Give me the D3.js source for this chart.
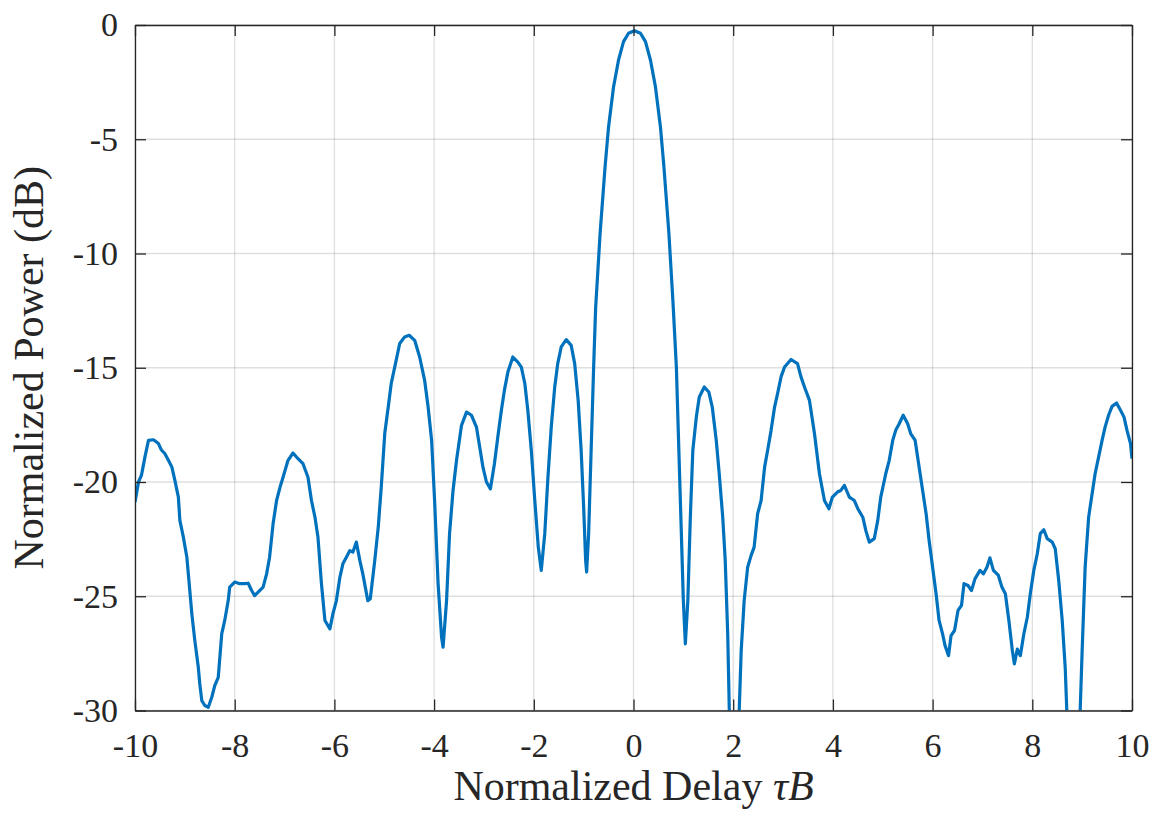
<!DOCTYPE html>
<html>
<head>
<meta charset="utf-8">
<script src="https://cdn.jsdelivr.net/npm/d3@7"></script>
<style>
  html, body { margin: 0; padding: 0; background: #fff; }
  svg text { font-family: "Liberation Serif", "DejaVu Serif", serif; fill: #262626; }
</style>
</head>
<body>
<svg id="chart" width="1154" height="816"></svg>
<script>
// normalized delay (tau*B) and normalized power (dB)
const tau = [
  -10.00, -9.93, -9.87, -9.80, -9.73, -9.63, -9.53, -9.47, -9.40, -9.33,
  -9.26, -9.20, -9.13, -9.10, -9.03, -8.96, -8.93, -8.86, -8.80, -8.73,
  -8.70, -8.66, -8.60, -8.53, -8.46, -8.40, -8.33, -8.26, -8.20, -8.13,
  -8.10, -8.00, -7.90, -7.80, -7.73, -7.66, -7.60, -7.53, -7.43, -7.36,
  -7.30, -7.23, -7.16, -7.09, -7.03, -6.93, -6.83, -6.73, -6.63, -6.53,
  -6.46, -6.39, -6.33, -6.26, -6.19, -6.09, -6.03, -5.96, -5.89, -5.83,
  -5.76, -5.69, -5.63, -5.56, -5.49, -5.43, -5.33, -5.28, -5.19, -5.12,
  -5.06, -4.99, -4.92, -4.86, -4.79, -4.69, -4.59, -4.50, -4.39, -4.29,
  -4.19, -4.12, -4.05, -3.99, -3.92, -3.85, -3.82, -3.75, -3.69, -3.62,
  -3.55, -3.45, -3.35, -3.25, -3.15, -3.09, -3.02, -2.95, -2.87, -2.79,
  -2.72, -2.65, -2.59, -2.52, -2.42, -2.32, -2.25, -2.18, -2.12, -2.05,
  -1.98, -1.91, -1.85, -1.78, -1.72, -1.65, -1.58, -1.52, -1.45, -1.35,
  -1.25, -1.18, -1.11, -1.05, -1.00, -0.96, -0.94, -0.90, -0.85, -0.80,
  -0.76, -0.67, -0.57, -0.50, -0.40, -0.30, -0.20, -0.10, 0.02, 0.14,
  0.24, 0.34, 0.44, 0.54, 0.61, 0.71, 0.79, 0.86, 0.91, 0.96,
  1.00, 1.04, 1.09, 1.14, 1.19, 1.26, 1.32, 1.42, 1.51, 1.58,
  1.66, 1.72, 1.79, 1.84, 1.89, 1.96, 2.06, 2.16, 2.22, 2.29,
  2.36, 2.42, 2.49, 2.56, 2.63, 2.69, 2.76, 2.83, 2.89, 2.96,
  3.03, 3.16, 3.29, 3.36, 3.43, 3.53, 3.63, 3.73, 3.83, 3.92,
  3.99, 4.09, 4.16, 4.23, 4.33, 4.43, 4.50, 4.60, 4.66, 4.73,
  4.83, 4.90, 4.96, 5.06, 5.13, 5.20, 5.26, 5.33, 5.41, 5.50,
  5.56, 5.65, 5.73, 5.80, 5.87, 5.93, 6.00, 6.07, 6.13, 6.20,
  6.25, 6.32, 6.37, 6.44, 6.51, 6.58, 6.63, 6.71, 6.78, 6.85,
  6.95, 7.02, 7.09, 7.15, 7.22, 7.32, 7.39, 7.46, 7.53, 7.60,
  7.64, 7.70, 7.76, 7.83, 7.90, 7.96, 8.03, 8.10, 8.16, 8.23,
  8.30, 8.40, 8.46, 8.53, 8.60, 8.66, 8.76, 8.90, 9.00, 9.06,
  9.13, 9.20, 9.26, 9.33, 9.40, 9.46, 9.53, 9.60, 9.69, 9.77,
  9.84, 9.90, 9.97, 10.00
];

const powerDb = [
  -20.88, -20.00, -19.70, -18.90, -18.18, -18.15, -18.32, -18.60, -18.76, -19.05,
  -19.35, -19.93, -20.66, -21.68, -22.41, -23.29, -24.02, -25.77, -26.94, -28.11,
  -28.84, -29.57, -29.78, -29.86, -29.42, -28.91, -28.55, -26.65, -26.06, -25.19,
  -24.60, -24.38, -24.45, -24.45, -24.43, -24.75, -24.97, -24.82, -24.60, -24.02,
  -23.29, -21.83, -20.81, -20.22, -19.79, -19.05, -18.73, -18.98, -19.20, -19.79,
  -20.81, -21.54, -22.41, -24.45, -26.06, -26.43, -25.77, -25.19, -24.17, -23.58,
  -23.29, -23.00, -23.07, -22.63, -23.43, -24.02, -25.19, -25.11, -23.43, -21.97,
  -20.22, -17.88, -16.72, -15.69, -14.97, -13.94, -13.65, -13.58, -13.80, -14.53,
  -15.55, -16.72, -18.18, -20.81, -24.45, -26.79, -27.23, -25.19, -22.26, -20.37,
  -19.05, -17.52, -16.94, -17.08, -17.60, -18.40, -19.35, -20.00, -20.30, -19.20,
  -18.00, -16.86, -15.99, -15.19, -14.53, -14.75, -14.97, -15.69, -16.86, -18.62,
  -20.81, -22.85, -23.87, -22.26, -19.93, -17.60, -15.84, -14.82, -14.09, -13.77,
  -14.02, -14.82, -16.43, -18.62, -21.10, -23.43, -23.94, -22.26, -18.62, -15.00,
  -12.40, -9.12, -6.20, -4.45, -2.70, -1.53, -0.73, -0.36, -0.25, -0.36,
  -0.73, -1.53, -2.70, -4.45, -6.20, -9.12, -12.05, -14.97, -18.62, -22.26,
  -25.19, -27.08, -25.19, -21.54, -18.62, -17.16, -16.28, -15.84, -16.06, -16.72,
  -18.18, -19.64, -21.54, -23.43, -26.65, -34.00, -34.00, -27.40, -25.19, -23.73,
  -23.21, -22.85, -21.39, -20.81, -19.35, -18.62, -17.74, -16.72, -16.13, -15.40,
  -14.97, -14.64, -14.82, -15.40, -15.84, -16.43, -17.88, -19.64, -20.81, -21.17,
  -20.66, -20.44, -20.37, -20.15, -20.66, -20.81, -21.17, -21.54, -22.12, -22.63,
  -22.48, -21.68, -20.66, -19.64, -19.05, -18.18, -17.74, -17.45, -17.08, -17.45,
  -17.88, -18.18, -19.35, -20.37, -21.39, -22.56, -23.73, -24.89, -26.06, -26.65,
  -27.16, -27.60, -26.72, -26.50, -25.62, -25.40, -24.45, -24.53, -24.75, -24.24,
  -23.87, -24.02, -23.73, -23.32, -23.87, -24.09, -24.60, -24.89, -26.06, -27.38,
  -27.96, -27.31, -27.60, -26.65, -25.92, -24.89, -23.87, -23.14, -22.26, -22.09,
  -22.48, -22.63, -22.92, -24.31, -26.06, -28.11, -34.00, -34.00, -27.38, -23.73,
  -21.54, -20.51, -19.64, -18.91, -18.18, -17.60, -17.08, -16.69, -16.54, -16.86,
  -17.16, -17.74, -18.32, -18.98
];

const xTicks = [-10, -8, -6, -4, -2, 0, 2, 4, 6, 8, 10];
const yTicks = [-30, -25, -20, -15, -10, -5, 0];

const svg = d3.select("#chart");
const margin = { top: 25, right: 22, bottom: 105.5, left: 135 };
const width = +svg.attr("width");
const height = +svg.attr("height");
const innerWidth = width - margin.left - margin.right;
const innerHeight = height - margin.top - margin.bottom;
const axisColor = "#262626";

const g = svg.append("g")
  .attr("transform", `translate(${margin.left},${margin.top})`);

const x = d3.scaleLinear().domain([-10, 10]).range([0, innerWidth]);
const y = d3.scaleLinear().domain([-30, 0]).range([innerHeight, 0]);

// --- Grid ---
g.append("g").selectAll("line")
  .data(xTicks)
  .enter()
  .append("line")
  .attr("x1", d => x(d)).attr("x2", d => x(d))
  .attr("y1", 0).attr("y2", innerHeight)
  .attr("stroke", axisColor).attr("stroke-opacity", 0.15).attr("stroke-width", 1.3);

g.append("g").selectAll("line")
  .data(yTicks)
  .enter()
  .append("line")
  .attr("x1", 0).attr("x2", innerWidth)
  .attr("y1", d => y(d)).attr("y2", d => y(d))
  .attr("stroke", axisColor).attr("stroke-opacity", 0.15).attr("stroke-width", 1.3);

// --- Curve ---
svg.append("defs").append("clipPath")
  .attr("id", "plot-clip")
  .append("rect")
  .attr("width", innerWidth)
  .attr("height", innerHeight);

const points = tau.map((t, i) => ({ t: t, p: powerDb[i] }));

const line = d3.line()
  .x(d => x(d.t))
  .y(d => y(d.p));

g.append("path")
  .datum(points)
  .attr("clip-path", "url(#plot-clip)")
  .attr("fill", "none")
  .attr("stroke", "#0072BD")
  .attr("stroke-width", 3.2)
  .attr("stroke-linejoin", "round")
  .attr("d", line);

// --- Axes (box with inward ticks) ---
const tickLen = 11;
function styleAxis(sel) {
  sel.select(".domain").attr("stroke", axisColor).attr("stroke-width", 1.3);
  sel.selectAll(".tick line").attr("stroke", axisColor).attr("stroke-width", 1.3);
  sel.selectAll(".tick text")
    .style("font-size", "34px")
    .attr("fill", axisColor);
}

g.append("g")
  .attr("transform", `translate(0,${innerHeight})`)
  .call(d3.axisBottom(x).tickValues(xTicks).tickFormat(d => String(d))
    .tickSizeInner(-tickLen).tickSizeOuter(0).tickPadding(22))
  .call(styleAxis);

g.append("g")
  .call(d3.axisTop(x).tickValues(xTicks)
    .tickSizeInner(-tickLen).tickSizeOuter(0))
  .call(styleAxis)
  .call(a => a.selectAll(".tick text").remove());

g.append("g")
  .call(d3.axisLeft(y).tickValues(yTicks).tickFormat(d => String(d))
    .tickSizeInner(-tickLen).tickSizeOuter(0).tickPadding(17))
  .call(styleAxis);

g.append("g")
  .attr("transform", `translate(${innerWidth},0)`)
  .call(d3.axisRight(y).tickValues(yTicks)
    .tickSizeInner(-tickLen).tickSizeOuter(0))
  .call(styleAxis)
  .call(a => a.selectAll(".tick text").remove());

// --- Labels ---
const xLabel = svg.append("text")
  .attr("x", margin.left + innerWidth / 2)
  .attr("y", 800)
  .attr("text-anchor", "middle")
  .style("font-size", "42px");
xLabel.append("tspan").text("Normalized Delay ");
xLabel.append("tspan").style("font-style", "italic").text("τB");

svg.append("text")
  .attr("transform", `translate(43,${margin.top + innerHeight / 2}) rotate(-90)`)
  .attr("text-anchor", "middle")
  .style("font-size", "42px")
  .text("Normalized Power (dB)");
</script>
</body>
</html>
